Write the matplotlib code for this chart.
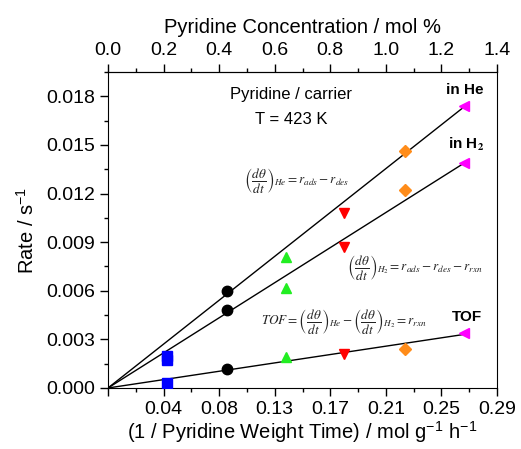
import numpy as np
import matplotlib
matplotlib.use("Agg")
import matplotlib.pyplot as plt
from matplotlib.ticker import MultipleLocator

plt.rcParams['font.family'] = ['Liberation Sans', 'DejaVu Sans']
plt.rcParams['mathtext.fontset'] = 'stix'

# pyridine concentration (mol %) for each marker group
conc = [0.212, 0.428, 0.64, 0.85, 1.069, 1.281]
colors = ['#0000ff', '#000000', '#22ee22', '#ff0000', '#ff8c1a', '#ff00ff']
markers = ['s', 'o', '^', 'v', 'D', '<']

rate_he = [0.0020, 0.0060, 0.0081, 0.0108, 0.0146, 0.0174]
rate_h2 = [0.0017, 0.0048, 0.0062, 0.0087, 0.0122, 0.0139]
rate_tof = [0.0003, 0.0012, 0.0019, 0.0021, 0.0024, 0.0034]

# slopes of the linear fits through the origin (rate per mol %)
slope_he = 0.01354
slope_h2 = 0.01083
slope_tof = 0.00258
fit_end = 1.29

top_ticks = [0.0, 0.2, 0.4, 0.6, 0.8, 1.0, 1.2, 1.4]
bottom_labels = ['', '0.04', '0.08', '0.13', '0.17', '0.21', '0.25', '0.29']
y_ticks = [0.0, 0.003, 0.006, 0.009, 0.012, 0.015, 0.018]

fig = plt.figure(figsize=(5.21, 4.49), dpi=100)
ax = fig.add_axes([0.2073, 0.1359, 0.7467, 0.7037])

for slope in (slope_he, slope_h2, slope_tof):
    ax.plot([0, fit_end], [0, slope * fit_end], color='black', lw=1.0, zorder=1)

for series in (rate_he, rate_h2, rate_tof):
    for x, y, c, m in zip(conc, series, colors, markers):
        ms = 6.5 if m == 'D' else 7.5
        ax.plot(x, y, marker=m, color=c, ms=ms, ls='none', zorder=3)

ax.set_xlim(0, 1.4)
ax.set_ylim(0, 0.0195)

ax.set_xticks(top_ticks)
ax.set_xticklabels(bottom_labels)
ax.xaxis.set_minor_locator(MultipleLocator(0.1))
ax.set_yticks(y_ticks)
ax.set_yticklabels(['%.3f' % v for v in y_ticks])
ax.yaxis.set_minor_locator(MultipleLocator(0.0015))

ax.tick_params(axis='both', which='major', direction='out', length=6,
               width=1, labelsize=14)
ax.tick_params(axis='both', which='minor', direction='out', length=3, width=1)

ax.set_xlabel('(1 / Pyridine Weight Time) / mol g$^{\\mathregular{-1}}$ h$^{\\mathregular{-1}}$',
              fontsize=14.5, labelpad=1)
ax.set_ylabel('Rate / s$^{\\mathregular{-1}}$', fontsize=14.5, labelpad=6)

top = ax.secondary_xaxis('top')
top.set_xticks(top_ticks)
top.set_xticklabels(['%.1f' % v for v in top_ticks])
top.xaxis.set_minor_locator(MultipleLocator(0.1))
top.tick_params(axis='x', which='major', direction='out', length=6,
                width=1, labelsize=14)
top.tick_params(axis='x', which='minor', direction='out', length=3, width=1)
top.set_xlabel('Pyridine Concentration / mol %', fontsize=14.5, labelpad=6)

ax.text(0.66, 0.0181, 'Pyridine / carrier', fontsize=12, ha='center', va='center')
ax.text(0.66, 0.01655, 'T = 423 K', fontsize=12, ha='center', va='center')

ax.text(1.285, 0.0184, 'in He', fontsize=11, fontweight='bold', ha='center', va='center')
ax.text(1.29, 0.01505, 'in H$_\\mathbf{2}$', fontsize=11, fontweight='bold',
        ha='center', va='center')
ax.text(1.29, 0.0044, 'TOF', fontsize=11, fontweight='bold', ha='center', va='center')

ax.text(0.49, 0.0128,
        r'$\left(\dfrac{d\theta}{dt}\right)_{He} = r_{ads} - r_{des}$',
        fontsize=9.5, ha='left', va='center', color='#222222')
ax.text(0.86, 0.00745,
        r'$\left(\dfrac{d\theta}{dt}\right)_{H_2} = r_{ads} - r_{des} - r_{rxn}$',
        fontsize=9.5, ha='left', va='center', color='#222222')
ax.text(0.55, 0.0041,
        r'$TOF = \left(\dfrac{d\theta}{dt}\right)_{He} - \left(\dfrac{d\theta}{dt}\right)_{H_2} = r_{rxn}$',
        fontsize=9.5, ha='left', va='center', color='#222222')

fig.savefig('out.png', dpi=100)
